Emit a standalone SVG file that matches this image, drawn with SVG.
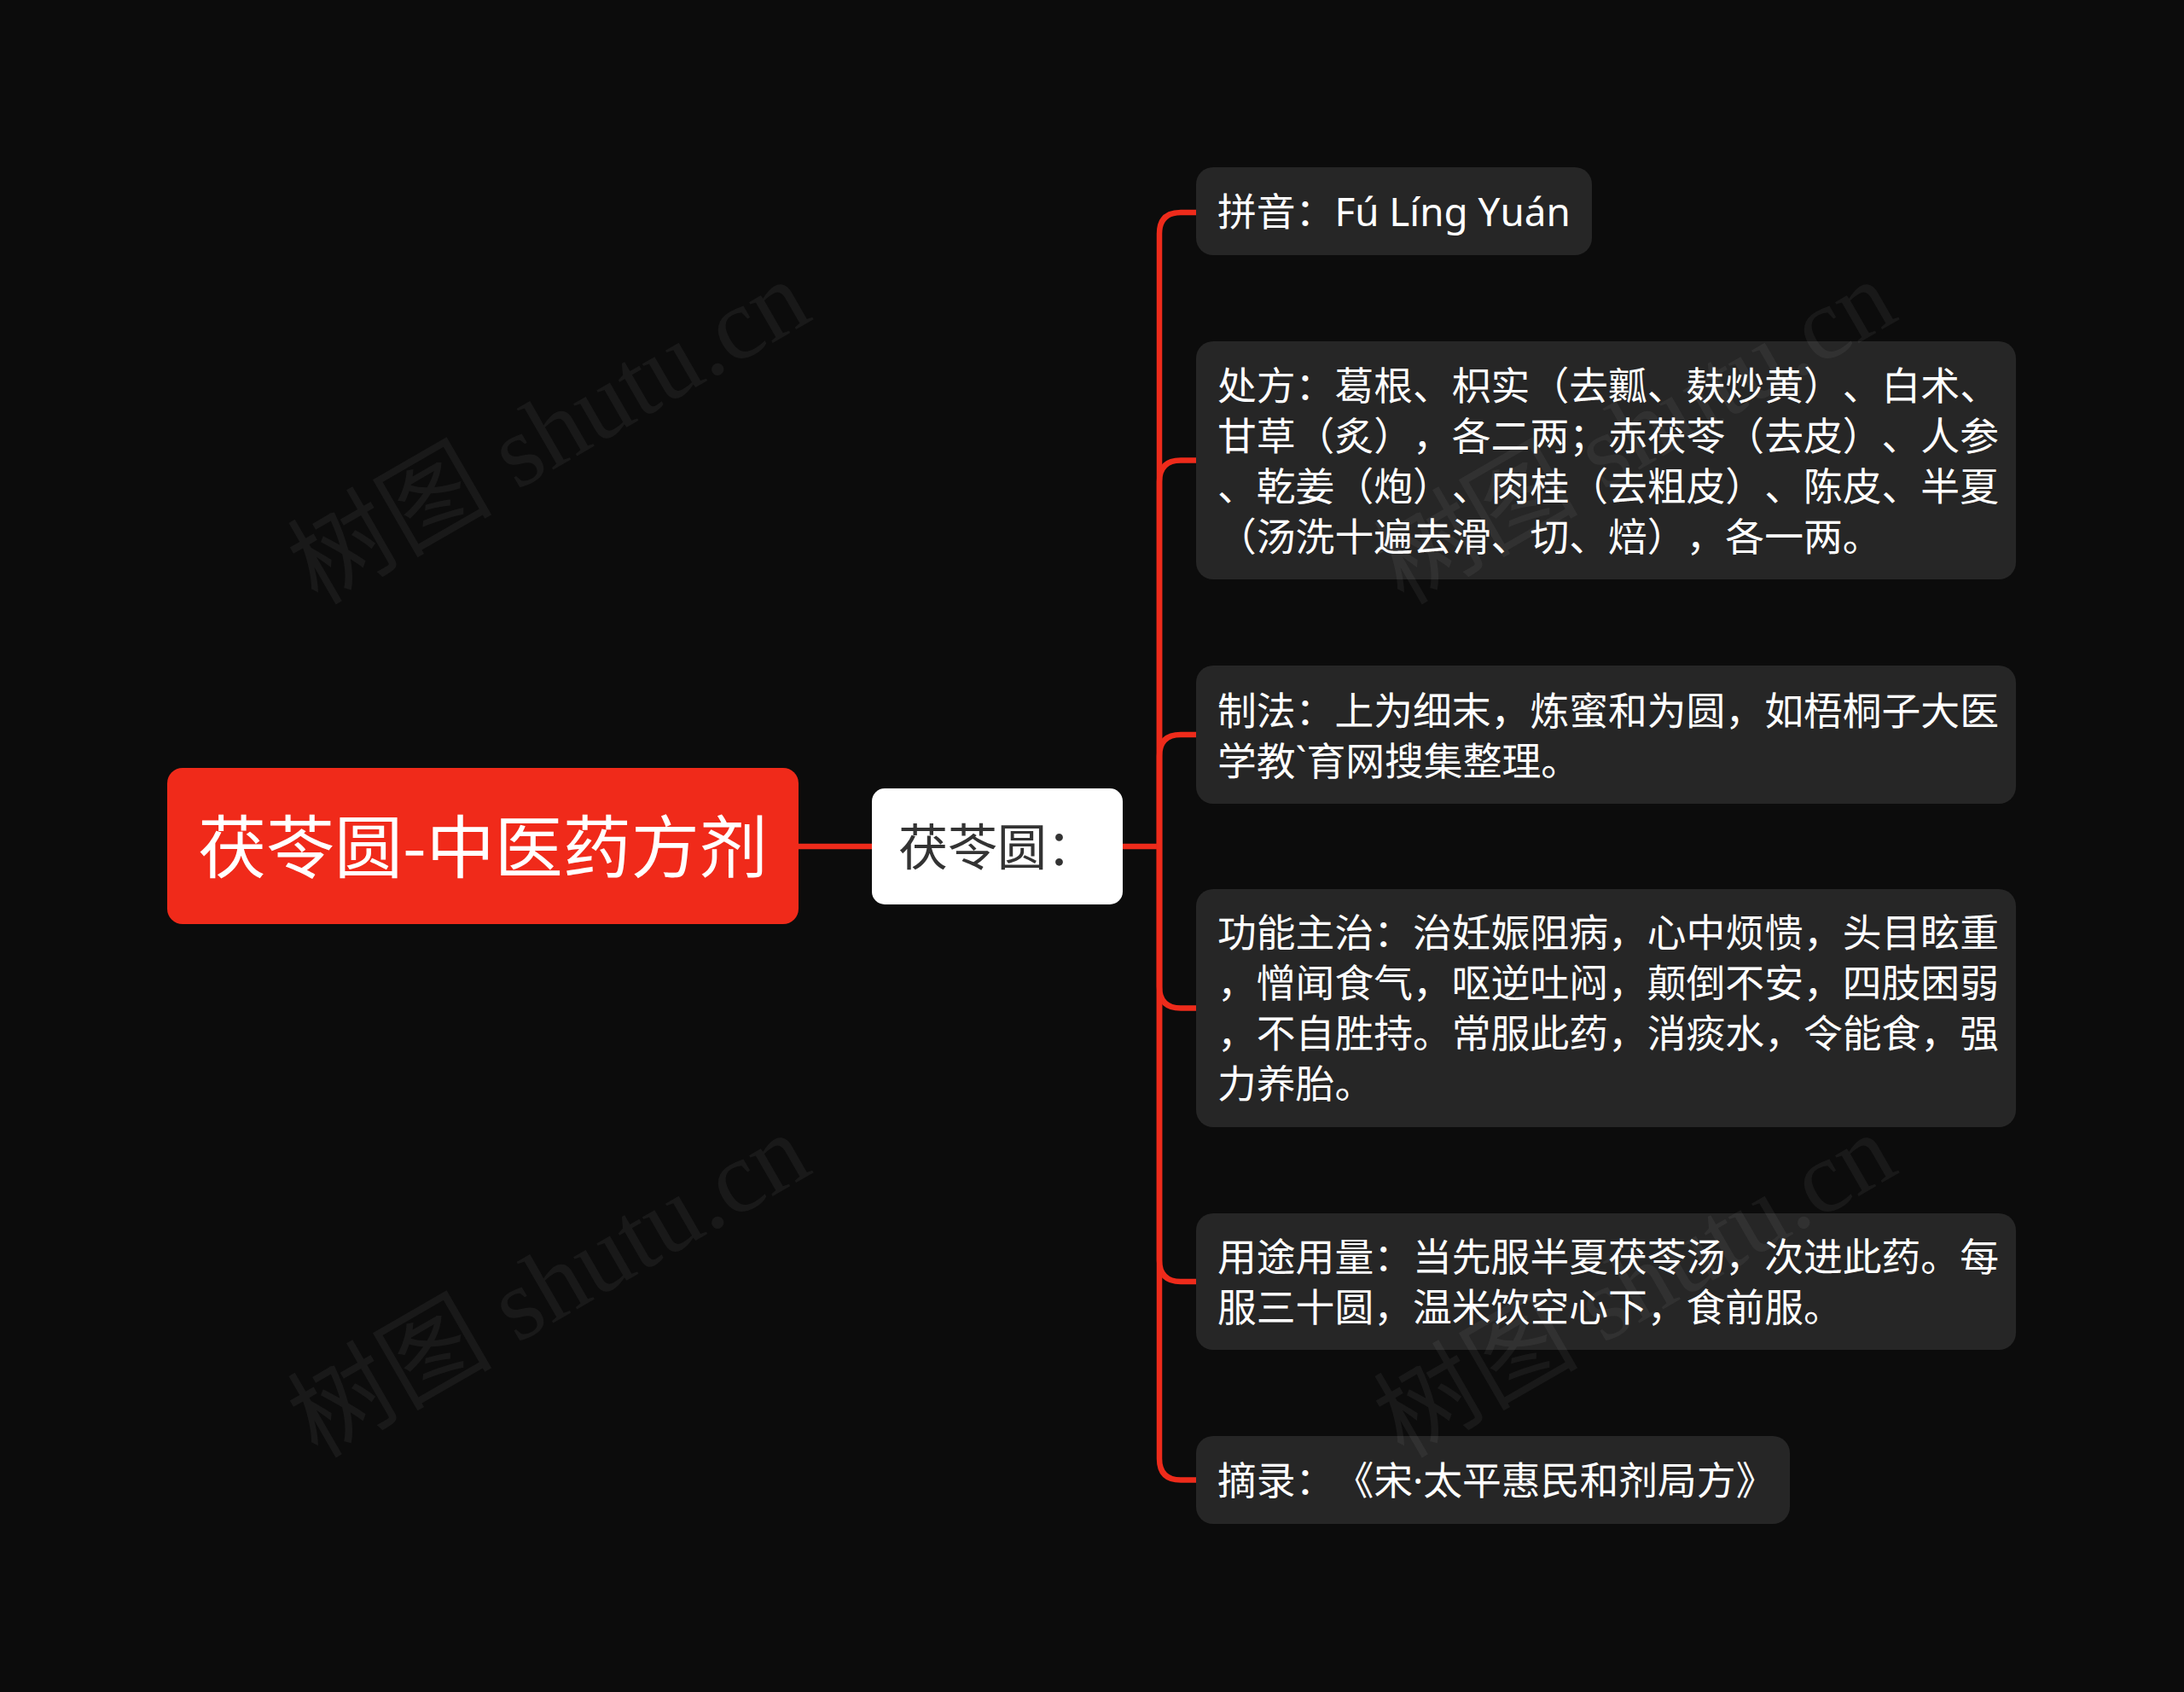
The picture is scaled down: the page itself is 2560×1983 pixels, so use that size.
<svg xmlns="http://www.w3.org/2000/svg" width="2560" height="1983" viewBox="0 0 2560 1983">
  <style>
    text { text-spacing-trim: space-all; font-kerning: none; }
    .cjk { font-family: "Noto Sans CJK SC", "Noto Sans", sans-serif; }
    .lat { font-family: "Noto Sans", "Noto Sans CJK SC", sans-serif; }
    .child { fill: #262626; }
    .ct { fill: #ffffff; font-size: 45.8px; }
    .conn { fill: none; stroke: #ee2b1b; stroke-width: 6.5; stroke-linecap: butt; stroke-linejoin: round; }
    .wm { font-family: "Liberation Serif", "Noto Sans CJK SC", serif; font-size: 120px; fill: #ffffff; fill-opacity: 0.055; }
  </style>
  <rect x="0" y="0" width="2560" height="1983" fill="#0c0c0c"/>

  <g id="connectors">
    <path class="conn" d="M936,992 L1022,992"/>
    <path class="conn" d="M1316,992 L1359,992"/>
    <path class="conn" d="M1359,992 L1359,274 Q1359,249 1384,249 L1402,249"/>
    <path class="conn" d="M1359,992 L1359,564.5 Q1359,539.5 1384,539.5 L1402,539.5"/>
    <path class="conn" d="M1359,992 L1359,886 Q1359,861 1384,861 L1402,861"/>
    <path class="conn" d="M1359,992 L1359,1156.5 Q1359,1181.5 1384,1181.5 L1402,1181.5"/>
    <path class="conn" d="M1359,992 L1359,1477 Q1359,1502 1384,1502 L1402,1502"/>
    <path class="conn" d="M1359,992 L1359,1709.5 Q1359,1734.5 1384,1734.5 L1402,1734.5"/>
  </g>

  <g id="root">
    <rect x="196" y="900" width="740" height="183" rx="18" fill="#f02a1a"/>
    <text class="cjk" x="566" y="1022" font-size="80" fill="#ffffff" text-anchor="middle">茯苓圆-中医药方剂</text>
  </g>

  <g id="main">
    <rect x="1022" y="924" width="294" height="136" rx="15" fill="#ffffff"/>
    <text class="cjk" x="1053" y="1014" font-size="58" fill="#333333">茯苓圆：</text>
  </g>

  <g id="pinyin">
    <rect class="child" x="1402" y="196" width="464" height="103" rx="20"/>
    <text class="cjk ct" x="1427" y="265">拼音：<tspan class="lat">Fú Líng Yuán</tspan></text>
  </g>

  <g id="chufang">
    <rect class="child" x="1402" y="400" width="961" height="279" rx="20"/>
    <text class="cjk ct" x="1427" y="469">处方：葛根、枳实（去瓤、麸炒黄）、白术、</text>
    <text class="cjk ct" x="1427" y="528">甘草（炙），各二两；赤茯苓（去皮）、人参</text>
    <text class="cjk ct" x="1427" y="587">、乾姜（炮）、肉桂（去粗皮）、陈皮、半夏</text>
    <text class="cjk ct" x="1427" y="646">（汤洗十遍去滑、切、焙），各一两。</text>
  </g>

  <g id="zhifa">
    <rect class="child" x="1402" y="780" width="961" height="162" rx="20"/>
    <text class="cjk ct" x="1427" y="850">制法：上为细末，炼蜜和为圆，如梧桐子大医</text>
    <text class="cjk ct" x="1427" y="909">学教<tspan class="lat">`</tspan>育网搜集整理。</text>
  </g>

  <g id="gongneng">
    <rect class="child" x="1402" y="1042" width="961" height="279" rx="20"/>
    <text class="cjk ct" x="1427" y="1110">功能主治：治妊娠阻病，心中烦愦，头目眩重</text>
    <text class="cjk ct" x="1427" y="1169">，憎闻食气，呕逆吐闷，颠倒不安，四肢困弱</text>
    <text class="cjk ct" x="1427" y="1228">，不自胜持。常服此药，消痰水，令能食，强</text>
    <text class="cjk ct" x="1427" y="1287">力养胎。</text>
  </g>

  <g id="yongtu">
    <rect class="child" x="1402" y="1422" width="961" height="160" rx="20"/>
    <text class="cjk ct" x="1427" y="1490">用途用量：当先服半夏茯苓汤，次进此药。每</text>
    <text class="cjk ct" x="1427" y="1549">服三十圆，温米饮空心下，食前服。</text>
  </g>

  <g id="zhailu">
    <rect class="child" x="1402" y="1683" width="696" height="103" rx="20"/>
    <text class="cjk ct" x="1427" y="1752">摘录：《宋<tspan class="lat">·</tspan>太平惠民和剂局方》</text>
  </g>

  <g id="watermarks">
    <text class="wm" transform="translate(372,710) rotate(-30)">树图 shutu.cn</text>
    <text class="wm" transform="translate(1645,710) rotate(-30)">树图 shutu.cn</text>
    <text class="wm" transform="translate(372,1710) rotate(-30)">树图 shutu.cn</text>
    <text class="wm" transform="translate(1645,1710) rotate(-30)">树图 shutu.cn</text>
  </g>
</svg>
